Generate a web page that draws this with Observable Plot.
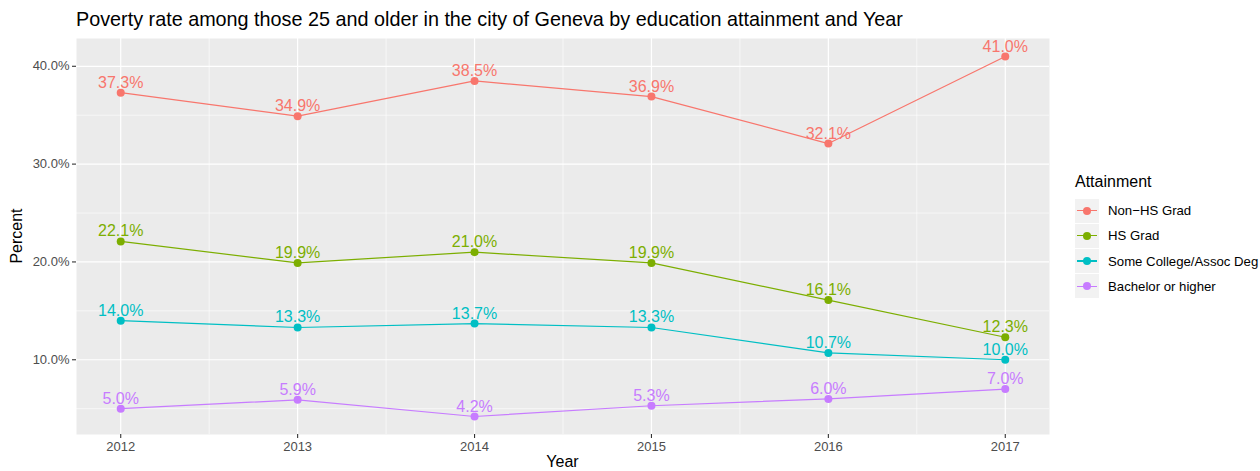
<!DOCTYPE html>
<html>
<head>
<meta charset="utf-8">
<script src="https://cdn.jsdelivr.net/npm/d3@7"></script>
<script src="https://cdn.jsdelivr.net/npm/@observablehq/plot@0.6"></script>
<style>
  html, body { margin: 0; padding: 0; background: white; }
  #wrap { position: relative; width: 1260px; height: 471px; font-family: "Liberation Sans", Arial, Helvetica, sans-serif; }
  #wrap svg { position: absolute; left: 0; top: 0; }
  .t { position: absolute; line-height: 1; white-space: nowrap; color: #000; }
  #title { left: 76px; top: 10px; font-size: 19.8px; }
  #xlab { left: 562.5px; top: 454px; font-size: 16px; transform: translateX(-50%); }
  #ylab { left: 17px; top: 236px; font-size: 16px; transform: translate(-50%, -50%) rotate(-90deg); }
  #legend { position: absolute; left: 1075px; top: 174px; }
  #legend .lt { font-size: 16px; line-height: 1; margin-bottom: 8.5px; }
  .row { display: flex; align-items: center; height: 24px; margin-bottom: 1.3px; }
  .key { position: relative; width: 24px; height: 24px; background: #F2F2F2; }
  .key .ln { position: absolute; left: 2px; right: 2px; top: 11.4px; height: 1.2px; }
  .key .pt { position: absolute; left: 8px; top: 8px; width: 8px; height: 8px; border-radius: 50%; }
  .row .lab { margin-left: 9px; font-size: 13.2px; }
</style>
</head>
<body>
<div id="wrap">
  <div class="t" id="title"></div>
  <div class="t" id="xlab"></div>
  <div class="t" id="ylab"></div>
  <div id="legend"></div>
</div>
<script>
const titleText = "Poverty rate among those 25 and older in the city of Geneva by education attainment and Year";
const xTitle = "Year";
const yTitle = "Percent";
const legendTitle = "Attainment";

const years = [2012, 2013, 2014, 2015, 2016, 2017];
const attainments = ["Non\u2212HS Grad", "HS Grad", "Some College/Assoc Deg", "Bachelor or higher"];
const colors = ["#F8766D", "#7CAE00", "#00BFC4", "#C77CFF"];

const nonHsGrad   = [37.3, 34.9, 38.5, 36.9, 32.1, 41.0];
const hsGrad      = [22.1, 19.9, 21.0, 19.9, 16.1, 12.3];
const someCollege = [14.0, 13.3, 13.7, 13.3, 10.7, 10.0];
const bachelor    = [5.0, 5.9, 4.2, 5.3, 6.0, 7.0];

const yTicks = [10, 20, 30, 40];
const yMinor = [5, 15, 25, 35];
const xMinor = [2012.5, 2013.5, 2014.5, 2015.5, 2016.5];

const seriesValues = [nonHsGrad, hsGrad, someCollege, bachelor];
const rows = [];
seriesValues.forEach((vals, i) => {
  years.forEach((yr, j) => rows.push({year: yr, value: vals[j], group: attainments[i]}));
});

// ggplot-like 5% expansion
const allVals = rows.map(d => d.value);
const yMin = d3.min(allVals), yMax = d3.max(allVals);
const yPad = (yMax - yMin) * 0.05;
const xPad = (years[years.length - 1] - years[0]) * 0.05;

const pct = d => d.toFixed(1) + "%";

const chart = Plot.plot({
  width: 1260,
  height: 471,
  marginLeft: 76,
  marginRight: 211,
  marginTop: 38,
  marginBottom: 37,
  style: {fontFamily: "'Liberation Sans', Arial, Helvetica, sans-serif", background: "transparent", overflow: "visible"},
  x: {domain: [years[0] - xPad, years[years.length - 1] + xPad], axis: null},
  y: {domain: [yMin - yPad, yMax + yPad], axis: null},
  color: {domain: attainments, range: colors},
  marks: [
    Plot.frame({fill: "#EBEBEB", stroke: null}),
    Plot.ruleY(yMinor, {stroke: "white", strokeWidth: 0.6}),
    Plot.ruleX(xMinor, {stroke: "white", strokeWidth: 0.6}),
    Plot.ruleY(yTicks, {stroke: "white", strokeWidth: 1.2}),
    Plot.ruleX(years, {stroke: "white", strokeWidth: 1.2}),
    Plot.axisY(yTicks, {tickFormat: pct, tickSize: 4, tickPadding: 3, fontSize: 13, fill: "#4D4D4D", stroke: "#333333", strokeWidth: 1.1, label: null}),
    Plot.axisX(years, {tickFormat: d => String(d), tickSize: 4, tickPadding: 3, fontSize: 13, fill: "#4D4D4D", stroke: "#333333", strokeWidth: 1.1, label: null}),
    Plot.line(rows, {x: "year", y: "value", stroke: "group", z: "group", strokeWidth: 1.2}),
    Plot.dot(rows, {x: "year", y: "value", fill: "group", r: 4}),
    Plot.text(rows, {x: "year", y: "value", text: d => pct(d.value), fill: "group", fontSize: 16, lineAnchor: "bottom", dy: -5})
  ]
});
document.getElementById("wrap").appendChild(chart);

document.getElementById("title").textContent = titleText;
document.getElementById("xlab").textContent = xTitle;
document.getElementById("ylab").textContent = yTitle;

const legend = document.getElementById("legend");
const lt = document.createElement("div");
lt.className = "lt";
lt.textContent = legendTitle;
legend.appendChild(lt);
attainments.forEach((name, i) => {
  const row = document.createElement("div");
  row.className = "row";
  const key = document.createElement("div");
  key.className = "key";
  const ln = document.createElement("div");
  ln.className = "ln";
  ln.style.background = colors[i];
  const pt = document.createElement("div");
  pt.className = "pt";
  pt.style.background = colors[i];
  key.appendChild(ln);
  key.appendChild(pt);
  const lab = document.createElement("div");
  lab.className = "lab";
  lab.textContent = name;
  row.appendChild(key);
  row.appendChild(lab);
  legend.appendChild(row);
});
</script>
</body>
</html>
